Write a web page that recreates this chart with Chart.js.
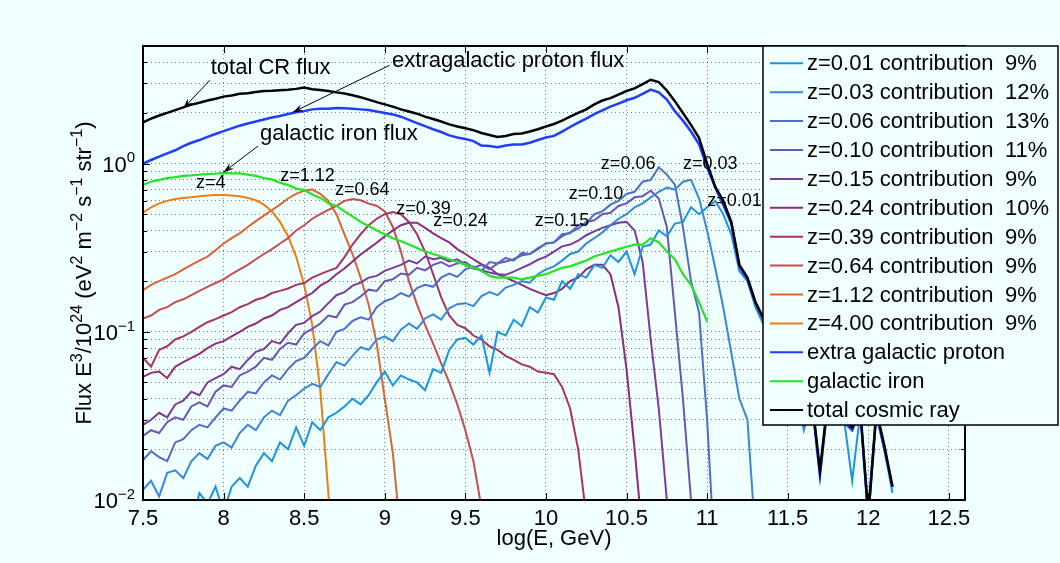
<!DOCTYPE html>
<html>
<head>
<meta charset="utf-8">
<script src="https://cdn.jsdelivr.net/npm/chart.js@4/dist/chart.umd.min.js"></script>
<style>
  html, body { margin: 0; padding: 0; background: #f0ffff; }
  #wrap { width: 1060px; height: 563px; }
</style>
</head>
<body>
<div id="wrap"><canvas id="flux" width="1060" height="563"></canvas></div>
<script>
// log10 of energy in GeV (shared grid for every curve)
const logE = [
  7.50, 7.55, 7.60, 7.65, 7.70, 7.75, 7.80, 7.85, 7.90, 7.95,
  8.00, 8.05, 8.10, 8.15, 8.20, 8.25, 8.30, 8.35, 8.40, 8.45,
  8.50, 8.55, 8.60, 8.65, 8.70, 8.75, 8.80, 8.85, 8.90, 8.95,
  9.00, 9.05, 9.10, 9.15, 9.20, 9.25, 9.30, 9.35, 9.40, 9.45,
  9.50, 9.55, 9.60, 9.65, 9.70, 9.75, 9.80, 9.85, 9.90, 9.95,
  10.00, 10.05, 10.10, 10.15, 10.20, 10.25, 10.30, 10.35, 10.40, 10.45,
  10.50, 10.55, 10.60, 10.65, 10.70, 10.75, 10.80, 10.85, 10.90, 10.95,
  11.00, 11.05, 11.10, 11.15, 11.20, 11.25, 11.30, 11.35, 11.40, 11.45,
  11.50, 11.55, 11.60, 11.65, 11.70, 11.75, 11.80, 11.85, 11.90, 11.95,
  12.00, 12.05, 12.10, 12.15, 12.20
];

// Flux E^3 / 1e24
const fluxTotal = [
  1.76, 1.85, 1.93, 2.0, 2.08, 2.16, 2.24, 2.3, 2.37, 2.43,
  2.5, 2.54, 2.6, 2.62, 2.66, 2.7, 2.71, 2.73, 2.75, 2.78,
  2.83, 2.77, 2.74, 2.7, 2.65, 2.61, 2.55, 2.48, 2.4, 2.32,
  2.25, 2.18, 2.1, 2.04, 1.98, 1.9, 1.84, 1.78, 1.71, 1.66,
  1.62, 1.58, 1.52, 1.48, 1.44, 1.46, 1.5, 1.51, 1.55, 1.6,
  1.66, 1.72, 1.8, 1.9, 2.0, 2.1, 2.25, 2.37, 2.45, 2.57,
  2.7, 2.8, 2.97, 3.15, 3.05, 2.72, 2.35, 2.0, 1.7, 1.42,
  1.0, 0.73, 0.6, 0.45, 0.25, 0.21, 0.15, 0.12, 0.09, 0.07,
  0.055, 0.05, 0.04, 0.04, 0.015, 0.04, 0.035, 0.03, 0.027, 0.035,
  0.008, 0.034, 0.021, 0.012, null
];
const fluxProton = [
  1.0, 1.05, 1.1, 1.15, 1.2, 1.27, 1.33, 1.38, 1.44, 1.5,
  1.56, 1.62, 1.68, 1.73, 1.78, 1.83, 1.88, 1.92, 1.97, 2.02,
  2.05, 2.1, 2.12, 2.12, 2.14, 2.13, 2.12, 2.1, 2.08, 2.04,
  2.0, 1.96, 1.9, 1.82, 1.74, 1.67, 1.6, 1.54, 1.47, 1.43,
  1.4, 1.36, 1.28, 1.27, 1.25, 1.28, 1.3, 1.3, 1.33, 1.38,
  1.43, 1.46, 1.55, 1.65, 1.75, 1.85, 1.97, 2.07, 2.18, 2.27,
  2.38, 2.46, 2.6, 2.75, 2.65, 2.4, 2.05, 1.8, 1.55, 1.3,
  0.95, 0.72, 0.57, 0.44, 0.245, 0.205, 0.148, 0.118, 0.088, 0.068,
  0.054, 0.049, 0.039, 0.039, 0.014, 0.039, 0.034, 0.029, 0.026, 0.034,
  0.008, 0.033, 0.02, 0.012, null
];
const fluxIron = [
  0.75, 0.78, 0.8, 0.82, 0.83, 0.845, 0.85, 0.86, 0.865, 0.87,
  0.88, 0.875, 0.875, 0.86, 0.845, 0.82, 0.805, 0.77, 0.745, 0.71,
  0.695, 0.655, 0.625, 0.58, 0.56, 0.52, 0.485, 0.45, 0.425, 0.4,
  0.38, 0.36, 0.345, 0.33, 0.315, 0.3, 0.29, 0.28, 0.27, 0.26,
  0.25, 0.24, 0.23, 0.215, 0.21, 0.21, 0.21, 0.205, 0.21, 0.215,
  0.22, 0.23, 0.24, 0.245, 0.255, 0.265, 0.28, 0.29, 0.3, 0.31,
  0.32, 0.33, 0.33, 0.36, 0.34, 0.3, 0.27, 0.22, 0.19, 0.15,
  0.115, null, null, null, null, null, null, null, null, null,
  null, null, null, null, null, null, null, null, null, null,
  null, null, null, null, null
];
const fluxZ001 = [
  null, null, null, null, null, null, 0.007, 0.011, 0.0095, 0.012,
  0.0085, 0.012, 0.0135, 0.012, 0.016, 0.019, 0.017, 0.022, 0.02, 0.027,
  0.021, 0.029, 0.026, 0.031, 0.033, 0.036, 0.04, 0.037, 0.042, 0.05,
  0.058, 0.048, 0.055, 0.052, 0.05, 0.045, 0.06, 0.057, 0.078, 0.09,
  0.092, 0.084, 0.095, 0.057, 0.1, 0.095, 0.118, 0.108, 0.14, 0.13,
  0.16, 0.155, 0.2, 0.18, 0.22, 0.21, 0.25, 0.24, 0.285, 0.26,
  0.3, 0.22, 0.32, 0.33, 0.4, 0.37, 0.44, 0.45, 0.55, 0.5,
  0.55, 0.6, 0.5, 0.38, 0.23, 0.2, 0.14, 0.11, 0.085, 0.065,
  0.05, 0.045, 0.026, 0.038, 0.014, 0.038, 0.033, 0.03, 0.013, 0.033,
  0.009, 0.032, 0.02, 0.011, null
];
const fluxZ003 = [
  0.0115, 0.013, 0.0105, 0.0145, 0.015, 0.0135, 0.017, 0.019, 0.0175, 0.021,
  0.022, 0.0205, 0.025, 0.028, 0.026, 0.031, 0.034, 0.032, 0.039, 0.042,
  0.046, 0.049, 0.047, 0.056, 0.066, 0.063, 0.072, 0.081, 0.078, 0.09,
  0.094, 0.088, 0.103, 0.112, 0.104, 0.12, 0.127, 0.118, 0.138, 0.146,
  0.148, 0.142, 0.163, 0.172, 0.165, 0.183, 0.19, 0.2, 0.196, 0.22,
  0.235, 0.245, 0.265, 0.29, 0.3, 0.335, 0.36, 0.39, 0.43, 0.47,
  0.5, 0.55, 0.58, 0.63, 0.68, 0.72, 0.7, 0.78, 0.8, 0.62,
  0.4, 0.24, 0.14, 0.075, 0.04, 0.03, 0.006, null, null, null,
  null, null, null, null, null, null, null, null, null, null,
  null, null, null, null, null
];
const fluxZ006 = [
  0.0173, 0.0195, 0.018, 0.017, 0.022, 0.023, 0.026, 0.028, 0.027, 0.031,
  0.035, 0.034, 0.039, 0.044, 0.043, 0.05, 0.055, 0.052, 0.06, 0.067,
  0.07, 0.079, 0.088, 0.083, 0.1, 0.104, 0.116, 0.122, 0.118, 0.14,
  0.152, 0.158, 0.17, 0.162, 0.182, 0.19, 0.185, 0.21, 0.222, 0.212,
  0.235, 0.245, 0.23, 0.26, 0.255, 0.275, 0.265, 0.295, 0.29, 0.315,
  0.335, 0.34, 0.38, 0.385, 0.43, 0.44, 0.5, 0.52, 0.57, 0.6,
  0.66, 0.68, 0.78, 0.8, 0.95, 0.86, 0.75, 0.42, 0.2, 0.13,
  0.03, 0.004, null, null, null, null, null, null, null, null,
  null, null, null, null, null, null, null, null, null, null,
  null, null, null, null, null
];
const fluxZ010 = [
  0.024, 0.026, 0.025, 0.029, 0.031, 0.03, 0.036, 0.038, 0.036, 0.044,
  0.048, 0.047, 0.055, 0.058, 0.062, 0.07, 0.068, 0.079, 0.086, 0.084,
  0.098, 0.104, 0.112, 0.125, 0.122, 0.145, 0.15, 0.162, 0.178, 0.175,
  0.2, 0.205, 0.222, 0.218, 0.24, 0.232, 0.25, 0.26, 0.245, 0.255,
  0.26, 0.24, 0.25, 0.235, 0.255, 0.262, 0.27, 0.285, 0.29, 0.31,
  0.335, 0.34, 0.37, 0.39, 0.41, 0.45, 0.46, 0.5, 0.51, 0.56,
  0.58, 0.63, 0.64, 0.69, 0.62, 0.42, 0.13, 0.04, 0.01, 0.003,
  null, null, null, null, null, null, null, null, null, null,
  null, null, null, null, null, null, null, null, null, null,
  null, null, null, null, null
];
const fluxZ015 = [
  0.028, 0.03, 0.033, 0.031, 0.037, 0.039, 0.044, 0.042, 0.05, 0.053,
  0.056, 0.062, 0.06, 0.068, 0.076, 0.079, 0.088, 0.085, 0.098, 0.11,
  0.113, 0.124, 0.132, 0.148, 0.165, 0.172, 0.188, 0.196, 0.21, 0.215,
  0.23, 0.24, 0.25, 0.265, 0.255, 0.28, 0.27, 0.275, 0.262, 0.27,
  0.25, 0.238, 0.232, 0.225, 0.22, 0.218, 0.228, 0.24, 0.252, 0.268,
  0.28, 0.3, 0.322, 0.33, 0.348, 0.375, 0.395, 0.415, 0.43, 0.445,
  0.45, 0.4, 0.26, 0.09, 0.035, 0.01, 0.004, null, null, null,
  null, null, null, null, null, null, null, null, null, null,
  null, null, null, null, null, null, null, null, null, null,
  null, null, null, null, null
];
const fluxZ024 = [
  0.054, 0.057, 0.058, 0.053, 0.062, 0.066, 0.07, 0.074, 0.08, 0.085,
  0.088, 0.094, 0.1, 0.107, 0.112, 0.12, 0.125, 0.135, 0.14, 0.15,
  0.16, 0.17, 0.188, 0.2, 0.22, 0.238, 0.262, 0.288, 0.312, 0.338,
  0.37, 0.4, 0.43, 0.445, 0.445, 0.415, 0.385, 0.36, 0.34, 0.31,
  0.29, 0.27, 0.252, 0.24, 0.22, 0.21, 0.2, 0.19, 0.18, 0.172,
  0.165, 0.17, 0.18, 0.2, 0.21, 0.235, 0.25, 0.25, 0.22, 0.14,
  0.06, 0.02, 0.006, null, null, null, null, null, null, null,
  null, null, null, null, null, null, null, null, null, null,
  null, null, null, null, null, null, null, null, null, null,
  null, null, null, null, null
];
const fluxZ039 = [
  0.07, 0.062, 0.078, 0.082, 0.09, 0.094, 0.1, 0.107, 0.114, 0.119,
  0.125, 0.131, 0.14, 0.146, 0.155, 0.16, 0.17, 0.175, 0.181, 0.19,
  0.195, 0.21, 0.22, 0.23, 0.24, 0.278, 0.33, 0.38, 0.43, 0.47,
  0.5, 0.515, 0.5, 0.45, 0.38, 0.3, 0.22, 0.16, 0.125, 0.11,
  0.105, 0.095, 0.09, 0.082, 0.078, 0.072, 0.068, 0.064, 0.062, 0.058,
  0.057, 0.056, 0.047, 0.035, 0.02, 0.008, null, null, null, null,
  null, null, null, null, null, null, null, null, null, null,
  null, null, null, null, null, null, null, null, null, null,
  null, null, null, null, null, null, null, null, null, null,
  null, null, null, null, null
];
const fluxZ064 = [
  0.12, 0.125, 0.135, 0.14, 0.15, 0.156, 0.165, 0.175, 0.185, 0.195,
  0.205, 0.22, 0.235, 0.25, 0.27, 0.29, 0.31, 0.335, 0.36, 0.4,
  0.43, 0.47, 0.5, 0.53, 0.56, 0.6, 0.615, 0.605, 0.578, 0.562,
  0.52, 0.42, 0.3, 0.2, 0.145, 0.11, 0.085, 0.065, 0.05, 0.037,
  0.026, 0.017, 0.009, null, null, null, null, null, null, null,
  null, null, null, null, null, null, null, null, null, null,
  null, null, null, null, null, null, null, null, null, null,
  null, null, null, null, null, null, null, null, null, null,
  null, null, null, null, null, null, null, null, null, null,
  null, null, null, null, null
];
const fluxZ112 = [
  0.177, 0.19, 0.2, 0.21, 0.22, 0.235, 0.25, 0.265, 0.28, 0.305,
  0.335, 0.36, 0.385, 0.42, 0.455, 0.49, 0.53, 0.57, 0.62, 0.66,
  0.69, 0.7, 0.66, 0.6, 0.5, 0.38, 0.29, 0.21, 0.145, 0.085,
  0.04, 0.019, 0.006, null, null, null, null, null, null, null,
  null, null, null, null, null, null, null, null, null, null,
  null, null, null, null, null, null, null, null, null, null,
  null, null, null, null, null, null, null, null, null, null,
  null, null, null, null, null, null, null, null, null, null,
  null, null, null, null, null, null, null, null, null, null,
  null, null, null, null, null
];
const fluxZ400 = [
  0.51, 0.55, 0.58, 0.6, 0.615, 0.625, 0.63, 0.64, 0.645, 0.65,
  0.65, 0.645, 0.64, 0.625, 0.605, 0.57, 0.52, 0.45, 0.37, 0.28,
  0.19, 0.11, 0.045, 0.011, 0.002, null, null, null, null, null,
  null, null, null, null, null, null, null, null, null, null,
  null, null, null, null, null, null, null, null, null, null,
  null, null, null, null, null, null, null, null, null, null,
  null, null, null, null, null, null, null, null, null, null,
  null, null, null, null, null, null, null, null, null, null,
  null, null, null, null, null, null, null, null, null, null,
  null, null, null, null, null
];

// legend texts
const zNames = ['z=0.01', 'z=0.03', 'z=0.06', 'z=0.10', 'z=0.15', 'z=0.24', 'z=0.39', 'z=0.64', 'z=1.12', 'z=4.00'];
const zShares = ['9%', '12%', '13%', '11%', '9%', '10%', '9%', '9%', '9%', '9%'];
const otherNames = ['extra galactic proton', 'galactic iron', 'total cosmic ray'];

// axis ticks
const xTicks = [7.5, 8, 8.5, 9, 9.5, 10, 10.5, 11, 11.5, 12, 12.5];
const yTicks = [0.01, 0.02, 0.03, 0.04, 0.05, 0.06, 0.07, 0.08, 0.09,
                0.1, 0.2, 0.3, 0.4, 0.5, 0.6, 0.7, 0.8, 0.9, 1, 2, 3, 4, 5];
const yMajors = [0.01, 0.1, 1];
const yExponents = ['\u22122', '\u22121', '0'];

// in-plot labels, anchored in data coordinates
const zTagText = ['z=4', 'z=1.12', 'z=0.64', 'z=0.39', 'z=0.24', 'z=0.15', 'z=0.10', 'z=0.06', 'z=0.03', 'z=0.01'];
const zTagE    = [7.92, 8.52, 8.86, 9.24, 9.47, 10.1, 10.31, 10.51, 11.02, 11.17];
const zTagFlux = [0.765, 0.84, 0.695, 0.536, 0.455, 0.455, 0.658, 1.0, 1.0, 0.6];

const noteText = ['total CR flux', 'extragalactic proton flux', 'galactic iron flux'];
const noteE    = [7.92, 9.045, 8.226];
const noteFlux = [3.69, 4.06, 1.495];
const arrowFromE    = [7.915, 9.03, 8.213];
const arrowFromFlux = [3.13, 3.84, 1.27];
const arrowToE      = [7.75, 8.43, 8.0];
const arrowToFlux   = [2.13, 2.02, 0.889];

const FAMILY = '"Liberation Sans", Arial, Helvetica, sans-serif';
const BG = '#f0ffff';

const zColors = ['#1b95e0', '#3a87d8', '#4f6dc6', '#6a55b4', '#7c3b9c',
                 '#8e2a80', '#a93463', '#c64f4c', '#db6633', '#ef7d12'];
const zSeries = [fluxZ001, fluxZ003, fluxZ006, fluxZ010, fluxZ015,
                 fluxZ024, fluxZ039, fluxZ064, fluxZ112, fluxZ400];
const protonColor = '#1f3cff';
const ironColor = '#22e622';
const totalColor = '#000000';

const toPoints = vals => logE.map((e, i) => ({ x: e, y: vals[i] }));

// dataset 0 is drawn last (on top)
const datasets = [
  { label: otherNames[2], data: toPoints(fluxTotal), borderColor: totalColor, borderWidth: 2.5 },
  { label: otherNames[1], data: toPoints(fluxIron), borderColor: ironColor, borderWidth: 2.2 },
  { label: otherNames[0], data: toPoints(fluxProton), borderColor: protonColor, borderWidth: 2.5 },
  ...zSeries.map((vals, i) => ({
    label: zNames[i], data: toPoints(vals), borderColor: zColors[i], borderWidth: 2
  }))
];
datasets.forEach(d => { d.pointRadius = 0; d.tension = 0; d.fill = false; d.spanGaps = false; });

function richWidth(ctx, parts, big, small) {
  let w = 0;
  parts.forEach(([t, sup]) => {
    ctx.font = (sup ? small : big) + 'px ' + FAMILY;
    w += ctx.measureText(t).width;
  });
  return w;
}

function drawRich(ctx, parts, x, y, big, small) {
  let cx = x;
  parts.forEach(([t, sup]) => {
    ctx.font = (sup ? small : big) + 'px ' + FAMILY;
    ctx.fillText(t, cx, sup ? y - big * 0.42 : y);
    cx += ctx.measureText(t).width;
  });
}

function drawArrow(ctx, x1, y1, x2, y2) {
  ctx.beginPath();
  ctx.moveTo(x1, y1);
  ctx.lineTo(x2, y2);
  ctx.stroke();
  const ang = Math.atan2(y2 - y1, x2 - x1), L = 11, W = 0.33;
  ctx.beginPath();
  ctx.moveTo(x2, y2);
  ctx.lineTo(x2 - L * Math.cos(ang - W), y2 - L * Math.sin(ang - W));
  ctx.lineTo(x2 - 0.6 * L * Math.cos(ang), y2 - 0.6 * L * Math.sin(ang));
  ctx.lineTo(x2 - L * Math.cos(ang + W), y2 - L * Math.sin(ang + W));
  ctx.closePath();
  ctx.fill();
}

const overlay = {
  id: 'overlay',
  afterDraw(chart) {
    const { ctx, chartArea: a, scales: { x, y } } = chart;
    ctx.save();

    // inner tick marks
    ctx.strokeStyle = '#000';
    ctx.lineWidth = 1;
    ctx.beginPath();
    xTicks.forEach(v => {
      const px = Math.round(x.getPixelForValue(v)) + 0.5;
      ctx.moveTo(px, a.bottom); ctx.lineTo(px, a.bottom - 7);
      ctx.moveTo(px, a.top); ctx.lineTo(px, a.top + 7);
    });
    yTicks.forEach(v => {
      const py = Math.round(y.getPixelForValue(v)) + 0.5;
      const len = yMajors.includes(v) ? 7 : 4;
      ctx.moveTo(a.left, py); ctx.lineTo(a.left + len, py);
      ctx.moveTo(a.right, py); ctx.lineTo(a.right - len, py);
    });
    ctx.stroke();

    // axes box
    ctx.lineWidth = 2;
    ctx.strokeRect(a.left, a.top, a.right - a.left, a.bottom - a.top);

    // y tick labels 10^n
    ctx.fillStyle = '#000';
    ctx.textAlign = 'left';
    ctx.textBaseline = 'alphabetic';
    yMajors.forEach((v, i) => {
      const parts = [['10', false], [yExponents[i], true]];
      const w = richWidth(ctx, parts, 22, 15);
      drawRich(ctx, parts, 135 - w, y.getPixelForValue(v) + 8, 22, 15);
    });

    // y axis title
    const title = [['Flux E', false], ['3', true], ['/10', false], ['24', true],
                   [' (eV', false], ['2', true], [' m', false], ['\u22122', true],
                   [' s', false], ['\u22121', true], [' str', false], ['\u22121', true], [')', false]];
    ctx.save();
    ctx.translate(91, 273);
    ctx.rotate(-Math.PI / 2);
    const tw = richWidth(ctx, title, 22, 16);
    drawRich(ctx, title, -tw / 2, 0, 22, 16);
    ctx.restore();

    // annotations with arrows
    ctx.font = '22px ' + FAMILY;
    ctx.textBaseline = 'middle';
    ctx.textAlign = 'left';
    noteText.forEach((t, i) => {
      ctx.fillText(t, x.getPixelForValue(noteE[i]), y.getPixelForValue(noteFlux[i]));
    });
    ctx.lineWidth = 1;
    noteText.forEach((t, i) => {
      drawArrow(ctx,
        x.getPixelForValue(arrowFromE[i]), y.getPixelForValue(arrowFromFlux[i]),
        x.getPixelForValue(arrowToE[i]), y.getPixelForValue(arrowToFlux[i]));
    });

    ctx.font = '18px ' + FAMILY;
    ctx.textAlign = 'center';
    zTagText.forEach((t, i) => {
      ctx.fillText(t, x.getPixelForValue(zTagE[i]), y.getPixelForValue(zTagFlux[i]));
    });

    // legend box
    const lx = 763, ly = 46, lw = 295, lh = 379, row = 28.9, first = 63.3;
    ctx.fillStyle = BG;
    ctx.fillRect(lx, ly, lw, lh);
    ctx.strokeStyle = '#000';
    ctx.lineWidth = 1.5;
    ctx.strokeRect(lx, ly, lw, lh);
    const entries = zNames.map((n, i) => [n + ' contribution', zShares[i], zColors[i]])
      .concat([[otherNames[0], '', protonColor], [otherNames[1], '', ironColor], [otherNames[2], '', totalColor]]);
    ctx.font = '22px ' + FAMILY;
    ctx.textAlign = 'left';
    ctx.textBaseline = 'middle';
    entries.forEach(([label, share, color], i) => {
      const ry = first + row * i;
      ctx.strokeStyle = color;
      ctx.lineWidth = 2;
      ctx.beginPath();
      ctx.moveTo(770, ry); ctx.lineTo(803, ry);
      ctx.stroke();
      ctx.fillStyle = '#000';
      ctx.fillText(label, 807, ry + 1);
      if (share) ctx.fillText(share, 1005, ry + 1);
    });

    ctx.restore();
  }
};

new Chart(document.getElementById('flux'), {
  type: 'line',
  data: { datasets },
  options: {
    responsive: false,
    animation: false,
    events: [],
    layout: { padding: { left: 0, right: 95, top: 46, bottom: 0 } },
    plugins: { legend: { display: false }, tooltip: { enabled: false } },
    scales: {
      x: {
        type: 'linear',
        min: 7.5,
        max: 12.6,
        afterBuildTicks: s => { s.ticks = xTicks.map(v => ({ value: v })); },
        afterFit: s => { s.height = 63; },
        grid: { color: 'rgba(0,0,0,0.5)', drawTicks: false },
        border: { display: false, dash: [1, 3] },
        ticks: {
          color: '#000', autoSkip: false, maxRotation: 0, padding: 6,
          font: { family: FAMILY, size: 22 },
          callback: v => String(v)
        },
        title: {
          display: true, text: 'log(E, GeV)', color: '#000',
          font: { family: FAMILY, size: 22 }, padding: { top: 0, bottom: 11 }
        }
      },
      y: {
        type: 'logarithmic',
        min: 0.01,
        max: 5,
        afterBuildTicks: s => { s.ticks = yTicks.map(v => ({ value: v })); },
        afterFit: s => { s.width = 143; },
        grid: { color: 'rgba(0,0,0,0.5)', drawTicks: false },
        border: { display: false, dash: [1, 3] },
        ticks: { display: false, autoSkip: false }
      }
    }
  },
  plugins: [overlay]
});
</script>
</body>
</html>
